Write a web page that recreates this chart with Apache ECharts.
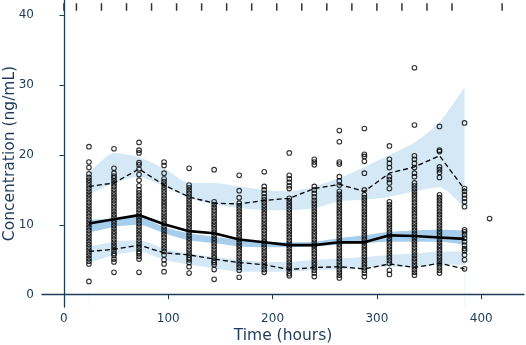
<!DOCTYPE html>
<html>
<head>
<meta charset="utf-8">
<script src="https://cdn.jsdelivr.net/npm/echarts@6/dist/echarts.min.js"></script>
<style>
html,body{margin:0;padding:0;background:#fff;}
#vpc{width:526px;height:345px;}
</style>
</head>
<body>
<div id="vpc"></div>
<script>
// bin mid times (hours)
var binTimes = [24, 48, 72, 96, 120, 144, 168, 192, 216, 240, 264, 288, 312, 336, 360, 384];
// bin edges (rug at top)
var binEdges = [0, 12, 36, 60, 84, 108, 132, 156, 180, 204, 228, 252, 276, 300, 324, 348, 372, 420];

// simulated prediction intervals
var upperLo = [14.3, 16.0, 16.9, 15.5, 13.8, 12.9, 12.4, 12.1, 12.1, 12.4, 13.4, 13.6, 14.0, 14.8, 15.4, 12.4];
var upperHi = [17.4, 20.3, 19.7, 18.1, 16.0, 16.0, 15.5, 15.0, 14.8, 15.5, 16.7, 18.3, 20.0, 21.8, 24.7, 29.7];
var medianLo = [8.9, 9.7, 10.0, 8.8, 7.8, 7.4, 6.9, 6.8, 6.8, 6.9, 7.2, 7.4, 7.6, 7.6, 7.6, 7.2];
var medianHi = [10.7, 10.9, 11.2, 9.7, 8.8, 8.3, 7.8, 7.6, 7.5, 7.6, 8.1, 8.5, 9.0, 9.2, 9.3, 9.2];
var lowerLo = [4.5, 5.7, 6.2, 5.0, 4.3, 3.8, 3.3, 3.3, 3.3, 3.5, 3.6, 3.8, 4.0, 4.0, 4.3, 4.3];
var lowerHi = [6.9, 7.6, 7.8, 6.6, 5.9, 5.4, 5.0, 4.7, 4.7, 5.0, 5.2, 5.4, 5.7, 5.9, 6.2, 6.2];

// observed percentiles
var obsMedian = [10.2, 10.8, 11.4, 10.1, 9.1, 8.8, 7.9, 7.5, 7.1, 7.1, 7.5, 7.5, 8.5, 8.4, 8.2, 8.0];
var obsP95 = [15.5, 16.0, 18.0, 15.7, 14.0, 13.1, 13.0, 13.5, 13.8, 15.2, 15.8, 14.8, 17.4, 18.3, 19.9, 15.1];
var obsP5 = [6.2, 6.5, 7.1, 6.0, 5.7, 5.1, 4.6, 4.3, 3.6, 3.9, 4.0, 3.7, 4.4, 3.9, 4.5, 3.7];

// observed concentrations
var obsTimes = [24, 48, 72, 96, 120, 144, 168, 192, 216, 240, 264, 288, 312, 336, 360, 384, 408];
var obsValues = [
  [21.2, 19.0, 18.2, 17.3, 16.8, 16.4, 16.0, 15.6, 15.2, 14.8, 14.4, 14.0, 13.6, 13.2, 12.8, 12.4, 12.0, 11.6, 11.2, 10.8, 10.4, 10.0, 9.6, 9.2, 8.8, 8.4, 8.0, 7.6, 7.2, 6.8, 6.4, 6.0, 5.6, 5.2, 4.8, 4.4, 1.9],
  [20.9, 18.1, 17.4, 17.0, 16.7, 16.3, 15.9, 15.5, 15.1, 14.7, 14.3, 13.9, 13.5, 13.1, 12.7, 12.3, 11.9, 11.5, 11.1, 10.7, 10.3, 9.9, 9.5, 9.1, 8.7, 8.3, 7.9, 7.5, 7.1, 6.7, 6.3, 5.9, 5.6, 5.1, 4.7, 3.2],
  [21.8, 20.7, 20.3, 18.9, 18.6, 18.0, 17.2, 16.4, 15.6, 15.0, 14.6, 14.2, 13.8, 13.4, 13.0, 12.6, 12.2, 11.8, 11.4, 11.0, 10.6, 10.2, 9.8, 9.4, 9.0, 8.6, 8.2, 7.8, 7.4, 7.0, 6.6, 6.2, 5.9, 5.5, 5.1, 3.2],
  [19.0, 18.5, 17.4, 16.6, 16.2, 15.8, 15.4, 15.0, 14.6, 14.2, 13.8, 13.4, 13.0, 12.6, 12.2, 11.8, 11.4, 11.0, 10.6, 10.2, 9.8, 9.4, 9.0, 8.6, 8.2, 7.8, 7.4, 7.0, 6.6, 6.2, 5.7, 5.0, 4.4, 3.3],
  [18.1, 15.7, 15.3, 14.9, 14.5, 14.1, 13.7, 13.3, 12.9, 12.5, 12.1, 11.7, 11.3, 10.9, 10.5, 10.1, 9.7, 9.3, 8.9, 8.5, 8.1, 7.7, 7.3, 6.9, 6.5, 6.1, 5.7, 5.3, 5.0, 4.6, 4.0, 3.1],
  [17.9, 13.3, 12.9, 12.5, 12.1, 11.7, 11.3, 10.9, 10.5, 10.1, 9.7, 9.3, 8.9, 8.5, 8.1, 7.7, 7.3, 6.9, 6.5, 6.1, 5.7, 5.3, 4.9, 4.6, 4.3, 3.6, 2.2],
  [17.1, 14.9, 13.9, 13.1, 12.7, 12.3, 11.9, 11.5, 11.1, 10.7, 10.3, 9.9, 9.5, 9.1, 8.7, 8.3, 7.9, 7.5, 7.1, 6.7, 6.3, 5.9, 5.5, 5.1, 4.7, 4.3, 3.9, 3.5, 2.5],
  [17.6, 15.5, 15.0, 14.5, 14.0, 13.6, 13.2, 12.8, 12.4, 12.0, 11.6, 11.2, 10.8, 10.4, 10.0, 9.6, 9.2, 8.8, 8.4, 8.0, 7.6, 7.2, 6.8, 6.4, 6.0, 5.6, 5.2, 4.8, 4.4, 4.0, 3.6, 3.2],
  [20.3, 17.1, 16.6, 16.1, 15.6, 15.2, 13.8, 13.4, 13.0, 12.6, 12.2, 11.8, 11.4, 11.0, 10.6, 10.2, 9.8, 9.4, 9.0, 8.6, 8.2, 7.8, 7.4, 7.0, 6.6, 6.2, 5.8, 5.4, 5.0, 4.6, 4.2, 3.8, 3.4, 3.0, 2.7],
  [19.4, 19.0, 18.6, 15.5, 15.0, 14.5, 14.0, 13.5, 13.1, 12.7, 12.3, 11.9, 11.5, 11.1, 10.7, 10.3, 9.9, 9.5, 9.1, 8.7, 8.3, 7.9, 7.5, 7.1, 6.7, 6.3, 5.9, 5.5, 5.1, 4.7, 4.3, 3.9, 3.5, 3.1, 2.6],
  [23.5, 21.9, 19.0, 18.7, 16.9, 16.3, 15.7, 14.8, 14.4, 14.0, 13.6, 13.2, 12.8, 12.4, 12.0, 11.6, 11.2, 10.8, 10.4, 10.0, 9.6, 9.2, 8.8, 8.4, 8.0, 7.6, 7.2, 6.8, 6.4, 6.0, 5.6, 5.2, 4.8, 4.4, 4.0, 3.6, 3.2, 2.8, 2.4],
  [23.8, 20.1, 19.8, 19.1, 17.4, 15.0, 14.3, 13.9, 13.5, 13.1, 12.7, 12.3, 11.9, 11.5, 11.1, 10.7, 10.3, 9.9, 9.5, 9.1, 8.7, 8.3, 7.9, 7.5, 7.1, 6.7, 6.3, 5.9, 5.5, 5.1, 4.7, 4.3, 3.9, 3.5, 3.1, 2.6],
  [21.3, 19.4, 18.8, 18.2, 16.9, 16.5, 16.0, 15.2, 13.3, 12.9, 12.5, 12.1, 11.7, 11.3, 10.9, 10.5, 10.1, 9.7, 9.3, 8.9, 8.5, 8.1, 7.7, 7.3, 6.9, 6.5, 6.1, 5.7, 5.3, 4.9, 4.5, 3.5, 2.9],
  [32.5, 24.3, 19.9, 19.4, 18.8, 18.2, 17.4, 16.9, 16.0, 15.6, 15.2, 14.8, 14.4, 14.0, 13.6, 13.2, 12.8, 12.4, 12.0, 11.6, 11.2, 10.8, 10.4, 10.0, 9.6, 9.2, 8.8, 8.4, 8.0, 7.6, 7.2, 6.8, 6.4, 6.0, 5.6, 5.2, 4.8, 4.4, 4.0, 3.6, 3.2, 2.8],
  [24.1, 20.7, 20.5, 18.3, 17.9, 17.5, 16.8, 14.3, 13.9, 13.5, 13.1, 12.7, 12.3, 11.9, 11.5, 11.1, 10.7, 10.3, 9.9, 9.5, 9.1, 8.7, 8.3, 7.9, 7.5, 7.1, 6.7, 6.3, 5.9, 5.5, 5.1, 4.7, 4.3, 3.9, 3.5, 3.1],
  [24.6, 15.2, 14.8, 14.3, 13.8, 13.3, 12.6, 9.3, 9.0, 8.6, 8.1, 7.6, 7.1, 6.6, 6.3, 5.7, 5.0, 3.7],
  [10.9]
];

var xTicks = [0, 100, 200, 300, 400];
var yTicks = [0, 10, 20, 30, 40];

var axisColor = '#1d3b5a';
var lightBlue = '#d4e8f6';
var midBlue = '#a6cdeb';
var font = 'DejaVu Sans';

function pairs(values) {
  var out = [];
  for (var i = 0; i < binTimes.length; i++) {
    out.push([binTimes[i], values[i]]);
  }
  return out;
}

// filled area down to the axis start; bands are layered top to bottom
function fillSeries(values, color) {
  return {
    type: 'line',
    data: pairs(values),
    smooth: 0.25,
    showSymbol: false,
    silent: true,
    lineStyle: { width: 0 },
    areaStyle: { color: color, opacity: 1, origin: 'start' },
    z: 1
  };
}

function lineSeries(values, width, dashed) {
  return {
    type: 'line',
    data: pairs(values),
    showSymbol: false,
    silent: true,
    lineStyle: { color: '#000', width: width, type: dashed ? [5, 3] : 'solid' },
    z: 4
  };
}

var scatterData = [];
for (var i = 0; i < obsTimes.length; i++) {
  for (var j = 0; j < obsValues[i].length; j++) {
    scatterData.push([obsTimes[i], obsValues[i][j]]);
  }
}

var rugData = [];
for (var k = 0; k < binEdges.length; k++) {
  rugData.push([binEdges[k], 41.2]);
}

var myChart = echarts.init(document.getElementById('vpc'));
var option = {
  animation: false,
  backgroundColor: '#fff',
  grid: { left: 42, right: 2, top: 0, bottom: 38, containLabel: false, outerBoundsMode: 'none' },
  xAxis: {
    type: 'value',
    min: -21,
    max: 441,
    z: 10,
    name: 'Time (hours)',
    nameLocation: 'middle',
    nameGap: 21,
    nameMoveOverlap: false,
    nameTextStyle: { fontFamily: font, fontSize: 15.5, color: axisColor },
    axisLine: { show: true, lineStyle: { color: axisColor, width: 1.3 } },
    axisTick: { show: true, length: 4.5, customValues: xTicks, lineStyle: { color: axisColor } },
    axisLabel: { customValues: xTicks, margin: 6, fontFamily: font, fontSize: 12, color: axisColor },
    splitLine: { show: false }
  },
  yAxis: {
    type: 'value',
    min: -1.76,
    max: 42.2,
    z: 10,
    name: 'Concentration (ng/mL)',
    nameLocation: 'middle',
    nameGap: 24,
    nameMoveOverlap: false,
    nameTextStyle: { fontFamily: font, fontSize: 15.5, color: axisColor },
    axisLine: { show: true, lineStyle: { color: axisColor, width: 1.3 } },
    axisTick: { show: true, length: 4.5, customValues: yTicks, lineStyle: { color: axisColor } },
    axisLabel: { customValues: yTicks, margin: 8, fontFamily: font, fontSize: 12, color: axisColor },
    splitLine: { show: false }
  },
  series: [
    fillSeries(upperHi, lightBlue),
    fillSeries(upperLo, '#fff'),
    fillSeries(medianHi, midBlue),
    fillSeries(medianLo, '#fff'),
    fillSeries(lowerHi, lightBlue),
    fillSeries(lowerLo, '#fff'),
    {
      type: 'scatter',
      data: scatterData,
      symbol: 'circle',
      symbolSize: 4.6,
      silent: true,
      itemStyle: { color: 'rgba(0,0,0,0)', borderColor: '#000', borderWidth: 1.1 },
      z: 3
    },
    lineSeries(obsP95, 1.3, true),
    lineSeries(obsP5, 1.3, true),
    lineSeries(obsMedian, 2.6, false),
    {
      type: 'scatter',
      data: rugData,
      symbol: 'rect',
      symbolSize: [1.5, 7.5],
      silent: true,
      itemStyle: { color: '#000' },
      z: 4
    }
  ]
};
myChart.setOption(option);
</script>
</body>
</html>
